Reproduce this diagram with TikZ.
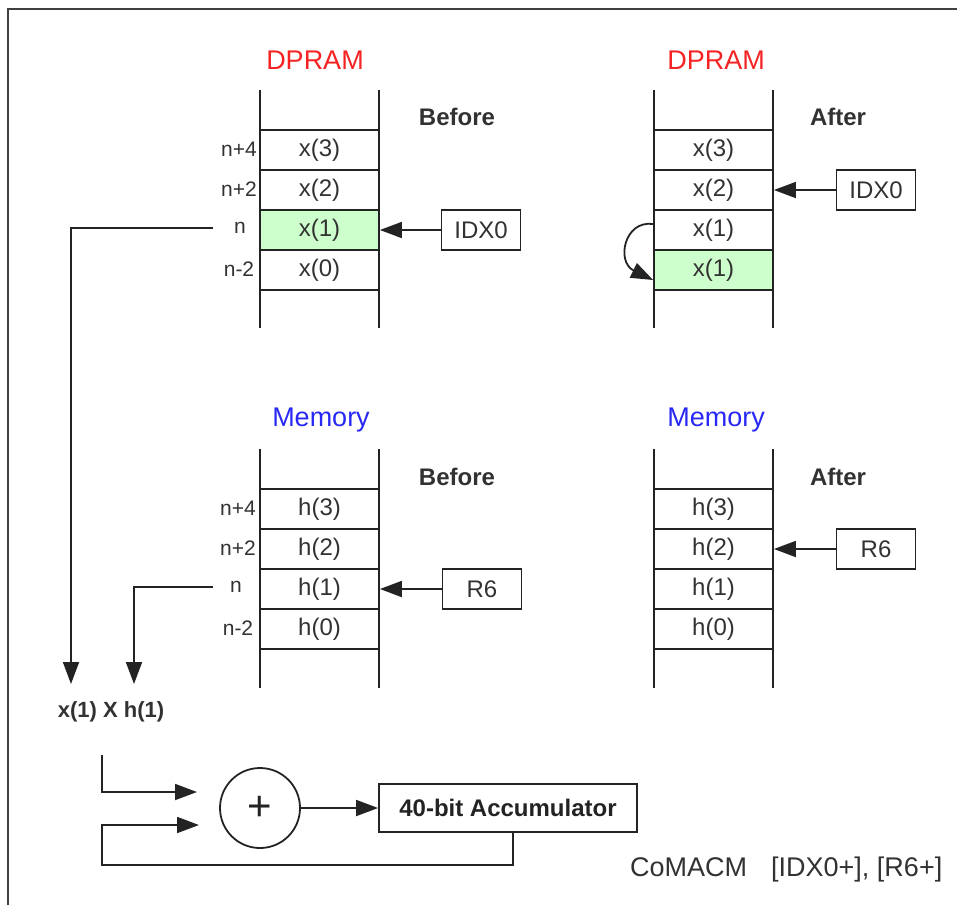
\documentclass[tikz,border=0pt]{standalone}
\usepackage{fontspec}
\setmainfont{Liberation Sans}
\usetikzlibrary{arrows.meta,calc}
\definecolor{cellgreen}{RGB}{204,255,204}
\definecolor{ink}{RGB}{35,35,35}
\definecolor{txt}{RGB}{50,50,50}
\definecolor{titlered}{RGB}{245,35,35}
\definecolor{titleblue}{RGB}{40,40,245}
\tikzset{
  fs/.style={font=\fontsize{#1}{#1}\selectfont},
  line/.style={draw=ink, line width=1.8pt},
  rail/.style={draw=ink, line width=1.8pt},
  frame/.style={draw=black!75, line width=2.5pt},
  cell/.style={line, minimum width=119pt, minimum height=40pt, inner sep=0pt, text=txt, fs=24},
  greencell/.style={cell, fill=cellgreen},
  reg/.style={line, minimum width=79pt, minimum height=40pt, inner sep=0pt, text=txt, fs=24},
  lbl/.style={inner sep=0pt, text=txt, fs=21},
  title/.style={inner sep=0pt, fs=27},
  state/.style={inner sep=0pt, text=txt, font=\fontsize{24}{24}\selectfont\bfseries},
  arr/.style={line, -{Triangle[length=22pt,width=16pt]}},
  wire/.style={line}
}
\begin{document}
\begin{tikzpicture}[x=1pt,y=-1pt]
\useasboundingbox (0,0) rectangle (957,905);
\draw[frame] (8,905) -- (8,9) -- (957,9);

% ---------- DPRAM before ----------
\node[title, text=titlered] (t1) at (315,60) {DPRAM};
\node[state] (s1) at (457,117) {Before};
\draw[rail] (260,90) -- (260,328);
\draw[rail] (379,90) -- (379,328);
\node[cell] (a3) at (319.5,150) {x(3)};
\node[cell] (a2) at (319.5,190) {x(2)};
\node[greencell] (a1) at (319.5,230) {x(1)};
\node[cell] (a0) at (319.5,270) {x(0)};
\node[lbl] (la3) at (239,149) {n+4};
\node[lbl] (la2) at (239,189) {n+2};
\node[lbl] (la1) at (240,228) {n};
\node[lbl] (la0) at (239,269) {n-2};
\node[reg] (ia) at (481,230) {IDX0};
\draw[arr] (ia) -- (a1);

% ---------- DPRAM after ----------
\node[title, text=titlered] (t2) at (716,60) {DPRAM};
\node[state] (s2) at (838,117) {After};
\draw[rail] (654,90) -- (654,328);
\draw[rail] (773,90) -- (773,328);
\node[cell] (b3) at (713.5,150) {x(3)};
\node[cell] (b2) at (713.5,190) {x(2)};
\node[cell] (b1) at (713.5,230) {x(1)};
\node[greencell] (b0) at (713.5,270) {x(1)};
\node[reg] (ib) at (876,190) {IDX0};
\draw[arr] (ib) -- (b2);
\draw[arr] ($(b1.west)+(0,-6)$) .. controls (624,220) and (616,262) .. ($(b0.west)+(0,10)$);

% ---------- Memory before ----------
\node[title, text=titleblue] (t3) at (321,420) {Memory};
\node[state] (s3) at (457,477) {Before};
\draw[rail] (260,449) -- (260,688);
\draw[rail] (379,449) -- (379,688);
\node[cell] (c3) at (319.5,509) {h(3)};
\node[cell] (c2) at (319.5,549) {h(2)};
\node[cell] (c1) at (319.5,589) {h(1)};
\node[cell] (c0) at (319.5,629) {h(0)};
\node[lbl] (lc3) at (238,508) {n+4};
\node[lbl] (lc2) at (238,548) {n+2};
\node[lbl] (lc1) at (236,587) {n};
\node[lbl] (lc0) at (238,628) {n-2};
\node[reg] (rc) at (482,589) {R6};
\draw[arr] (rc) -- (c1);

% ---------- Memory after ----------
\node[title, text=titleblue] (t4) at (716,420) {Memory};
\node[state] (s4) at (838,477) {After};
\draw[rail] (654,449) -- (654,688);
\draw[rail] (773,449) -- (773,688);
\node[cell] (d3) at (713.5,509) {h(3)};
\node[cell] (d2) at (713.5,549) {h(2)};
\node[cell] (d1) at (713.5,589) {h(1)};
\node[cell] (d0) at (713.5,629) {h(0)};
\node[reg] (rd) at (876,549) {R6};
\draw[arr] (rd) -- (d2);

% ---------- product and accumulate ----------
\node[inner sep=0pt, text=txt, font=\fontsize{22}{22}\selectfont\bfseries] (prod) at (111,712) {x(1) X h(1)};
\coordinate (xs) at (213,228);
\coordinate (hs) at (213,587);
\coordinate (px) at (71,684);
\coordinate (ph) at (134,684);
\draw[arr] (xs) -| (px);
\draw[arr] (hs) -| (ph);

\node[line, circle, minimum size=80pt, inner sep=0pt, text=ink, fs=42] (sum) at (260,808) {+};
\node[line, minimum width=258pt, minimum height=48pt, inner sep=0pt, text=ink,
      font=\fontsize{24}{24}\selectfont\bfseries] (acc) at (508,808) {40-bit Accumulator};
\draw[arr] (sum) -- (acc);

\coordinate (pout) at (102,755);
\coordinate (in1) at (197,792);
\coordinate (in2) at (199,825);
\draw[arr] (pout) |- (in1);
\coordinate (fb) at ($(acc.south)+(5,0)$);
\draw[arr] (fb) -- ++(0,32) -| (102,825) -- (in2);

\node[anchor=west, inner sep=0pt, text=txt, fs=27] (cmd) at (630,870) {CoMACM\hspace{24pt}[IDX0+], [R6+]};
\end{tikzpicture}
\end{document}
